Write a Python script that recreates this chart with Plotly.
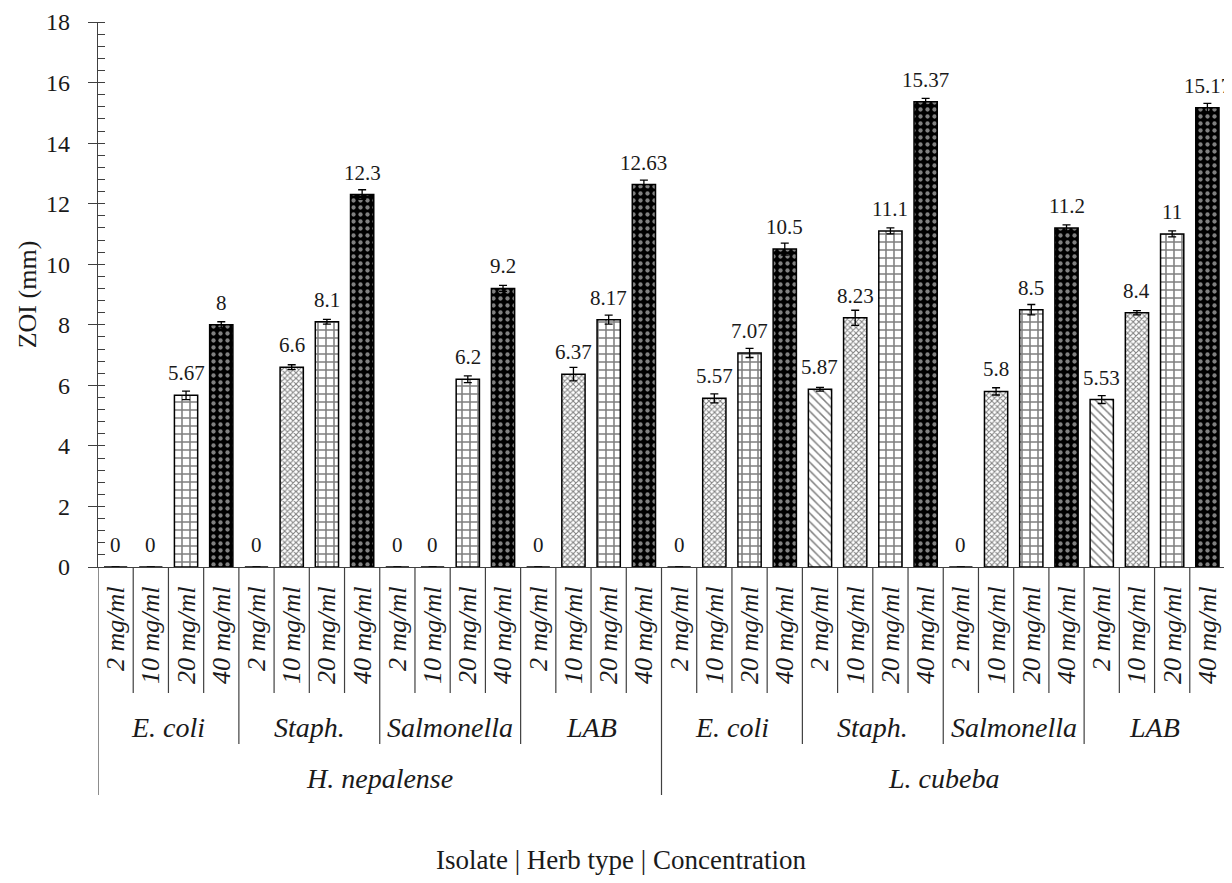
import plotly.graph_objects as go

herbs = ["H. nepalense", "L. cubeba"]
isolates = ["E. coli", "Staph.", "Salmonella", "LAB"]
concentrations = ["2 mg/ml", "10 mg/ml", "20 mg/ml", "40 mg/ml"]

# values ordered herb x isolate (8 groups)
conc_2 = [0, 0, 0, 0, 0, 5.87, 0, 5.53]
conc_10 = [0, 6.6, 0, 6.37, 5.57, 8.23, 5.8, 8.4]
conc_20 = [5.67, 8.1, 6.2, 8.17, 7.07, 11.1, 8.5, 11]
conc_40 = [8, 12.3, 9.2, 12.63, 10.5, 15.37, 11.2, 15.17]

err_2 = [0, 0, 0, 0, 0, 0.06, 0, 0.13]
err_10 = [0, 0.08, 0, 0.22, 0.15, 0.25, 0.12, 0.07]
err_20 = [0.14, 0.08, 0.11, 0.15, 0.15, 0.1, 0.17, 0.1]
err_40 = [0.1, 0.16, 0.1, 0.15, 0.2, 0.11, 0.1, 0.14]

series_vals = [conc_2, conc_10, conc_20, conc_40]
series_errs = [err_2, err_10, err_20, err_40]

FONT = "Liberation Serif"
TXT = "#1a1a1a"
AX = "#404040"

patterns = [
    dict(shape="\\", fgcolor="black", bgcolor="white", size=6, solidity=0.25),
    dict(shape="x", fgcolor="black", bgcolor="white", size=4, solidity=0.45),
    dict(shape="+", fgcolor="black", bgcolor="white", size=8, solidity=0.35),
    dict(shape=".", fgcolor="white", bgcolor="black", size=7, solidity=0.3),
]

n_groups = len(herbs) * len(isolates)
n_conc = len(concentrations)

fig = go.Figure()

ann = []
for ci, (vals, errs) in enumerate(zip(series_vals, series_errs)):
    xs = [g * n_conc + ci for g in range(n_groups)]
    fig.add_trace(go.Bar(
        x=xs, y=vals, width=0.66,
        marker=dict(color="black" if ci == 3 else "white",
                    line=dict(color="black", width=1.5),
                    pattern=patterns[ci]),
        error_y=dict(type="data", array=errs, visible=True,
                     color="black", thickness=1.3, width=4),
        showlegend=False, hoverinfo="skip",
    ))
    for x, v in zip(xs, vals):
        ann.append(dict(xref="x", yref="y", x=x, y=v, text=f"{v:g}",
                        showarrow=False, yshift=22, xanchor="center",
                        yanchor="middle",
                        font=dict(family=FONT, size=21, color=TXT)))

# invisible trace for the inner part of the major ticks
fig.add_trace(go.Scatter(x=[0], y=[0], yaxis="y2", mode="markers",
                         marker=dict(opacity=0), showlegend=False,
                         hoverinfo="skip"))

tick_vals = list(range(n_groups * n_conc))
tick_text = [concentrations[i % n_conc] for i in tick_vals]

fig.update_layout(
    width=1224, height=867,
    margin=dict(l=90, r=7, t=14, b=308),
    plot_bgcolor="white", paper_bgcolor="white",
    xaxis=dict(
        range=[-0.5, n_groups * n_conc - 0.5],
        tickvals=tick_vals, ticktext=tick_text, tickangle=-90,
        tickfont=dict(family=FONT, size=26, color=TXT, style="italic"),
        ticks="", showline=True, linecolor=AX, linewidth=1.2,
        showgrid=False, zeroline=False, ticklabelstandoff=8,
        automargin=False,
    ),
    yaxis=dict(
        range=[0, 18], tick0=0, dtick=2,
        ticks="outside", ticklen=9, tickcolor=AX, tickwidth=1.2,
        minor=dict(ticks="inside", ticklen=7, tick0=0, dtick=0.4,
                   tickcolor=AX, tickwidth=1.2, showgrid=False),
        showline=True, linecolor=AX, linewidth=1.2,
        showgrid=False, zeroline=False, automargin=False,
        ticklabelstandoff=13, ticklabeloverflow="allow",
        tickfont=dict(family=FONT, size=24, color=TXT),
        title=dict(text="ZOI (mm)", font=dict(family=FONT, size=26, color=TXT),
                   standoff=1),
    ),
    yaxis2=dict(
        overlaying="y", range=[0, 18], tick0=0, dtick=2,
        ticks="inside", ticklen=7, tickcolor=AX, tickwidth=1.2,
        showticklabels=False, showgrid=False, zeroline=False,
        showline=False, anchor="x", side="left",
    ),
)

# multi-level category separators (positions in page pixels of the reference)
plot_h = 867 - 14 - 308
def py(pix):
    return (567 - pix) / plot_h

shapes = []
y_conc, y_iso, y_herb = py(693), py(744), py(795)
total = n_groups * n_conc
for b in range(total + 1):
    xb = b - 0.5
    if b % (n_conc * len(isolates)) == 0:
        y1 = y_herb
    elif b % n_conc == 0:
        y1 = y_iso
    else:
        y1 = y_conc
    shapes.append(dict(type="line", xref="x", yref="paper", x0=xb, x1=xb,
                       y0=0, y1=y1, line=dict(color=AX, width=1.2)))
fig.update_layout(shapes=shapes)

for g in range(n_groups):
    iso = isolates[g % len(isolates)]
    ann.append(dict(xref="x", yref="paper", x=g * n_conc + (n_conc - 1) / 2,
                    y=py(727), text=iso, showarrow=False,
                    font=dict(family=FONT, size=28, color=TXT, style="italic"),
                    xanchor="center", yanchor="middle"))
per_herb = n_conc * len(isolates)
for h, herb in enumerate(herbs):
    ann.append(dict(xref="x", yref="paper", x=h * per_herb + (per_herb - 1) / 2,
                    y=py(778), text=herb, showarrow=False,
                    font=dict(family=FONT, size=28, color=TXT, style="italic"),
                    xanchor="center", yanchor="middle"))
ann.append(dict(xref="paper", yref="paper", x=(621 - 98) / 1127,
                y=py(860), text="Isolate | Herb type | Concentration",
                showarrow=False, font=dict(family=FONT, size=27, color=TXT),
                xanchor="center", yanchor="middle"))
fig.update_layout(annotations=ann)

fig.write_html("out.html")
